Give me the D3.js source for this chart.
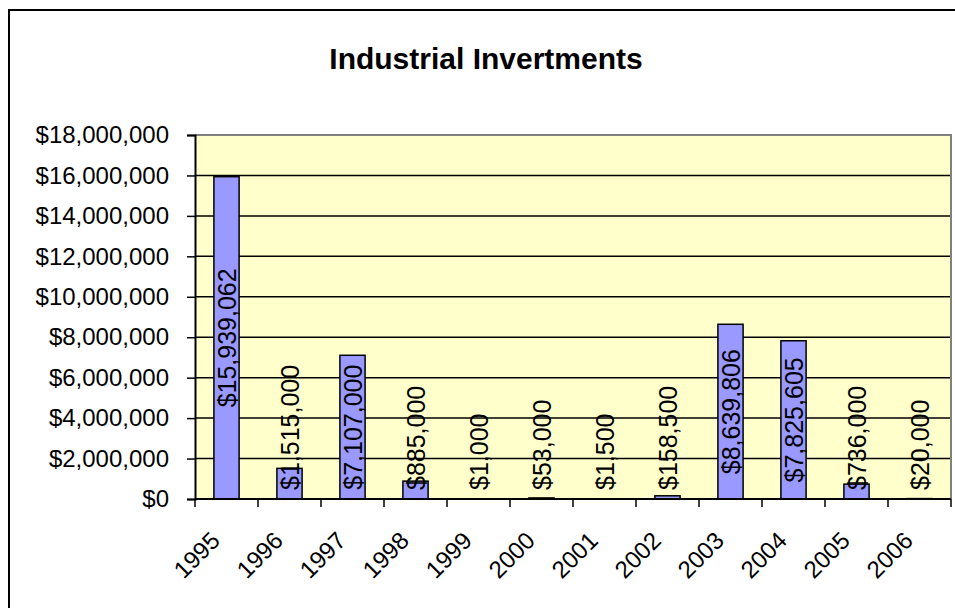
<!DOCTYPE html>
<html>
<head>
<meta charset="utf-8">
<script src="https://cdn.jsdelivr.net/npm/d3@7/dist/d3.min.js"></script>
<style>
  html, body { margin: 0; padding: 0; background: #fff; }
  svg { display: block; font-family: "Liberation Sans", Arial, sans-serif; }
</style>
</head>
<body>
<svg id="chart" width="955" height="608"></svg>
<script>
// Yearly industrial investment totals
const years = ["1995", "1996", "1997", "1998", "1999", "2000", "2001", "2002", "2003", "2004", "2005", "2006"];
const investments = [15939062, 1515000, 7107000, 885000, 1000, 53000, 1500, 158500, 8639806, 7825605, 736000, 20000];
const yTicks = [0, 2000000, 4000000, 6000000, 8000000, 10000000, 12000000, 14000000, 16000000, 18000000];
const chartTitle = "Industrial Invertments";

const svg = d3.select("#chart");
const W = 955, H = 608;
const plot = { left: 195, top: 135, right: 951, bottom: 499 };

const money = d3.format("$,");

// Outer chart frame (runs past the right and bottom edges)
svg.append("rect")
  .attr("x", 9).attr("y", 10)
  .attr("width", 1200).attr("height", 1200)
  .attr("fill", "#fff").attr("stroke", "#000").attr("stroke-width", 2);

// Title
svg.append("text")
  .attr("x", 486).attr("y", 69)
  .attr("text-anchor", "middle")
  .attr("font-size", 30).attr("font-weight", "bold")
  .attr("fill", "#000")
  .text(chartTitle);

const x = d3.scaleBand()
  .domain(years)
  .range([plot.left, plot.right])
  .paddingInner(0.6).paddingOuter(0.3);

const y = d3.scaleLinear()
  .domain([0, 18000000])
  .range([plot.bottom, plot.top]);

// Plot background
svg.append("rect")
  .attr("x", plot.left).attr("y", plot.top)
  .attr("width", plot.right - plot.left).attr("height", plot.bottom - plot.top)
  .attr("fill", "#FFFFCC");

// Gridlines
svg.append("g").selectAll("line")
  .data(yTicks.filter(d => d > 0 && d < 18000000))
  .join("line")
  .attr("x1", plot.left).attr("x2", plot.right)
  .attr("y1", d => y(d)).attr("y2", d => y(d))
  .attr("stroke", "#000").attr("stroke-width", 1.5);

// Plot border on top and right
svg.append("path")
  .attr("d", `M${plot.left},${plot.top}H${plot.right}V${plot.bottom}`)
  .attr("fill", "none").attr("stroke", "#808080").attr("stroke-width", 2);

// Bars
svg.append("g").selectAll("rect")
  .data(years)
  .join("rect")
  .attr("x", (d) => x(d))
  .attr("width", x.bandwidth())
  .attr("y", (d, i) => y(investments[i]))
  .attr("height", (d, i) => plot.bottom - y(investments[i]))
  .attr("fill", "#9999FF")
  .attr("stroke", "#000").attr("stroke-width", 1.5);

// Y axis
const yAxis = svg.append("g")
  .attr("transform", `translate(${plot.left},0)`)
  .call(d3.axisLeft(y).tickValues(yTicks).tickFormat(money).tickSize(8).tickPadding(18));
yAxis.select(".domain").attr("stroke", "#000").attr("stroke-width", 2);
yAxis.selectAll(".tick line").attr("stroke", "#000").attr("stroke-width", 1.5);
yAxis.selectAll(".tick text")
  .attr("font-size", 24).attr("fill", "#000")
  .attr("font-family", "Liberation Sans, Arial, sans-serif");

// X axis: ticks at category boundaries
const step = x.step();
const bounds = d3.range(years.length + 1).map(i => plot.left + i * step);
svg.append("line")
  .attr("x1", plot.left).attr("x2", plot.right)
  .attr("y1", plot.bottom).attr("y2", plot.bottom)
  .attr("stroke", "#000").attr("stroke-width", 2);
svg.append("g").selectAll("line")
  .data(bounds)
  .join("line")
  .attr("x1", d => d).attr("x2", d => d)
  .attr("y1", plot.bottom).attr("y2", plot.bottom + 8)
  .attr("stroke", "#000").attr("stroke-width", 1.5);

svg.append("g").selectAll("text")
  .data(years)
  .join("text")
  .attr("transform", d => `translate(${x(d) + x.bandwidth() / 2 - 5},${plot.bottom + 43}) rotate(-45)`)
  .attr("text-anchor", "end")
  .attr("font-size", 24).attr("fill", "#000")
  .text(d => d);

// Value labels, rotated, centred on each bar and kept inside the plot
const labels = svg.append("g").selectAll("text")
  .data(years)
  .join("text")
  .attr("text-anchor", "middle")
  .attr("dominant-baseline", "central")
  .attr("font-size", 25).attr("fill", "#000")
  .text((d, i) => money(investments[i]));

labels.each(function (d, i) {
  const len = this.getComputedTextLength();
  const cx = x(d) + x.bandwidth() / 2;
  const barMid = (y(investments[i]) + plot.bottom) / 2;
  const cy = Math.min(barMid, plot.bottom - 9 - len / 2);
  d3.select(this).attr("transform", `translate(${cx},${cy}) rotate(-90)`);
});
</script>
</body>
</html>
